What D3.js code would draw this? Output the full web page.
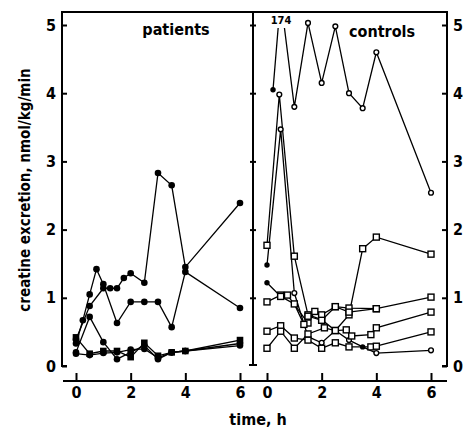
<!DOCTYPE html>
<html><head><meta charset="utf-8">
<script src="https://cdn.jsdelivr.net/npm/d3@7"></script>
<style>body{margin:0;background:#fff}svg{display:block}text{font-family:"DejaVu Sans Condensed","DejaVu Sans",sans-serif;font-weight:bold;fill:#000}</style>
</head><body><svg id="c" width="467" height="428"></svg>
<script>
// ---- data ----
const timeTicks = [0, 2, 4, 6];
const valueTicks = [0, 1, 2, 3, 4, 5];
const panelTitles = ["patients", "controls"];
const yLabel = "creatine excretion, nmol/kg/min";
const xLabel = "time, h";
const offScaleLabel = "174";      // printed value of the off-scale point
const axisBreakValue = 5.4;       // off-scale points are drawn at the broken top of the axis

// patients (filled markers): [time h, value]
const patientA = [[0,0.33],[0.25,0.67],[0.5,1.05],[0.75,1.42],[1,1.2],[1.5,0.63],[2,0.94],[2.5,0.94],[3,0.94],[3.5,0.57],[4,1.38],[6,0.85]];
const patientB = [[0,0.39],[0.5,0.88],[1,1.14],[1.25,1.14],[1.5,1.14],[1.75,1.29],[2,1.36],[2.5,1.22],[3,2.83],[3.5,2.65],[4,1.45],[6,2.39]];
const patientC = [[0,0.2],[0.5,0.72],[1,0.35],[1.5,0.1],[2,0.2],[2.5,0.3],[3,0.1],[3.5,0.2],[4,0.22],[6,0.33]];
const patientD = [[0,0.42],[0.5,0.18],[1,0.22],[1.5,0.22],[2,0.13],[2.5,0.34],[3,0.15],[3.5,0.2],[4,0.22],[6,0.38]];
const patientE = [[0,0.18],[0.5,0.16],[1,0.19],[1.5,0.2],[2,0.24],[2.5,0.25],[3,0.12],[3.5,0.2],[4,0.22],[6,0.3]];

// controls (open markers)
const control1 = [[0.22,4.05],[0.5,17.4],[1,3.8],[1.5,5.03],[2,4.15],[2.5,4.98],[3,4.0],[3.5,3.78],[4,4.6],[6,2.54]];
const control2 = [[0,1.77],[0.45,3.98],[1,1.61],[1.5,0.75],[2,0.68],[2.5,0.52],[3,0.75],[3.5,1.72],[4,1.89],[6,1.64]];
const control3 = [[0,0.94],[0.5,1.04],[0.75,1.04],[1.5,0.63],[1.75,0.8],[2,0.75],[2.5,0.87],[3,0.85],[4,0.84],[6,1.01]];
const control4 = [[0,1.48],[0.5,3.47],[1,1.07],[1.5,0.43],[2,0.34],[2.5,0.52],[3,0.38],[3.5,0.28],[4,0.19],[6,0.23]];
const control5 = [[0,0.51],[0.5,0.59],[1,0.41],[1.5,0.38],[2,0.26],[2.5,0.34],[3,0.28],[3.8,0.28],[4,0.29],[6,0.5]];
const control6 = [[0,0.26],[0.5,0.51],[1,0.26],[1.5,0.47],[2.1,0.56],[2.5,0.52],[2.9,0.53],[3.1,0.44],[3.8,0.46],[4,0.56],[6,0.79]];
const control7 = [[0,1.22],[0.5,1.02],[1,0.91],[1.35,0.61],[1.5,0.73],[2,0.67],[2.5,0.87],[3,0.79],[4,0.84]];

const patientSeries = [
  {data: patientA, marker: "dot"}, {data: patientB, marker: "dot"},
  {data: patientC, marker: "dot"}, {data: patientD, marker: "fsquare"},
  {data: patientE, marker: "dot"}];
const controlSeries = [
  {data: control1, marker: "circle", alt: {0: "dotsmall"}},
  {data: control2, marker: "square", alt: {1: "circle"}},
  {data: control3, marker: "square"},
  {data: control4, marker: "circle", alt: {0: "dotsmall", 2: "circle", 5: "dotsmall", 7: "dotsmall"}},
  {data: control5, marker: "square"}, {data: control6, marker: "square"},
  {data: control7, marker: "dotsmall", alt: {1: "square", 2: "square", 3: "square", 4: "square", 5: "square", 6: "square", 7: "square", 8: "square"}}];

// ---- layout ----
const svg = d3.select("#c");
const y = d3.scaleLinear().domain([0,5]).range([366,25]);
const yv = v => y(Math.min(v, axisBreakValue));
const xL = d3.scaleLinear().domain([0,6]).range([76,240]);
const xR = d3.scaleLinear().domain([0,6]).range([267,431]);
const FS = 16;

// clip for controls (leave gap for off-scale label)
const defs = svg.append("defs");
const cp = defs.append("clipPath").attr("id","clipR");
cp.append("rect").attr("x",254).attr("y",28).attr("width",192).attr("height",345);
cp.append("rect").attr("x",288).attr("y",0).attr("width",158).attr("height",373);
cp.append("rect").attr("x",254).attr("y",0).attr("width",21).attr("height",373);

// frame
const fr = svg.append("g").attr("stroke","#000").attr("stroke-width",2).attr("fill","none");
fr.append("path").attr("d","M67,366H62V12H447V366H442");
fr.append("path").attr("d","M253,12V365M249,365H257");
fr.append("path").attr("d","M63,381H447");

// y axes
const axL = svg.append("g").attr("transform","translate(62,0)")
  .call(d3.axisLeft(y).tickValues(valueTicks).tickSize(-5).tickSizeOuter(0).tickPadding(6).tickFormat(d3.format("d")));
const axR = svg.append("g").attr("transform","translate(447,0)")
  .call(d3.axisRight(y).tickValues(valueTicks).tickSize(-5).tickSizeOuter(0).tickPadding(6).tickFormat(d3.format("d")));
const axM = svg.append("g").attr("transform","translate(250,0)")
  .call(d3.axisRight(y).tickValues(valueTicks.slice(1)).tickSize(6).tickSizeOuter(0).tickFormat(""));
// x axes
const axXL = svg.append("g").attr("transform","translate(0,381)")
  .call(d3.axisBottom(xL).tickValues(timeTicks).tickSize(-8).tickSizeOuter(0).tickPadding(6).tickFormat(d3.format("d")));
const axXR = svg.append("g").attr("transform","translate(0,381)")
  .call(d3.axisBottom(xR).tickValues(timeTicks).tickSize(-8).tickSizeOuter(0).tickPadding(6).tickFormat(d3.format("d")));
[axL,axR,axM,axXL,axXR].forEach(a=>{
  a.select(".domain").remove();
  a.selectAll(".tick line").attr("stroke","#000").attr("stroke-width",2);
  a.selectAll("text").attr("font-size",FS).attr("font-family",null);
});

// titles
svg.append("text").attr("x",176).attr("y",35).attr("text-anchor","middle").attr("font-size",FS).text(panelTitles[0]);
svg.append("text").attr("x",382).attr("y",37).attr("text-anchor","middle").attr("font-size",FS).text(panelTitles[1]);
svg.append("text").attr("x",281).attr("y",24).attr("text-anchor","middle").attr("font-size",11).text(offScaleLabel);
svg.append("text").attr("x",258).attr("y",425).attr("text-anchor","middle").attr("font-size",FS).text(xLabel);
svg.append("text").attr("transform","translate(30,190) rotate(-90)").attr("text-anchor","middle").attr("font-size",15).text(yLabel);

// series
function marker(g, type, cx, cy){
  if (type==="dot") g.append("circle").attr("cx",cx).attr("cy",cy).attr("r",3.3).attr("fill","#000");
  else if (type==="dotsmall") g.append("circle").attr("cx",cx).attr("cy",cy).attr("r",2.7).attr("fill","#000");
  else if (type==="fsquare") g.append("rect").attr("x",cx-3.3).attr("y",cy-3.3).attr("width",6.6).attr("height",6.6).attr("fill","#000");
  else if (type==="circle") g.append("circle").attr("cx",cx).attr("cy",cy).attr("r",2.4).attr("fill","#fff").attr("stroke","#000").attr("stroke-width",1.4);
  else if (type==="square") g.append("rect").attr("x",cx-3).attr("y",cy-3).attr("width",6).attr("height",6).attr("fill","#fff").attr("stroke","#000").attr("stroke-width",1.4);
}
function drawPanel(series, x, clip){
  const g = svg.append("g");
  if (clip) g.attr("clip-path","url(#"+clip+")");
  const line = d3.line().x(d=>x(d[0])).y(d=>yv(d[1]));
  series.forEach(s=>{
    g.append("path").attr("d",line(s.data)).attr("fill","none").attr("stroke","#000").attr("stroke-width",1.3);
  });
  series.forEach(s=>{
    s.data.forEach((d,i)=>{
      if (d[1] > axisBreakValue) return;
      const t = (s.alt && s.alt[i]) ? s.alt[i] : s.marker;
      marker(g, t, x(d[0]), yv(d[1]));
    });
  });
}
drawPanel(patientSeries, xL, null);
drawPanel(controlSeries, xR, "clipR");
</script></body></html>
